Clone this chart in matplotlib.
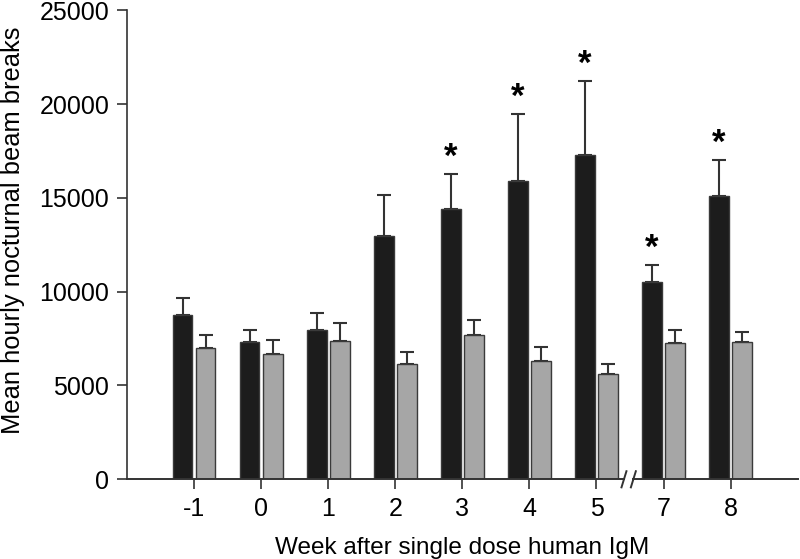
import numpy as np
import matplotlib.pyplot as plt

plt.rcParams['font.family'] = ['Liberation Sans', 'DejaVu Sans']

# weeks after dose (axis break between 5 and 7)
weeks = ['-1', '0', '1', '2', '3', '4', '5', '7', '8']
# black bars (treated) and grey bars (control), with upper SEM
black_mean = [8760, 7330, 7960, 12980, 14390, 15900, 17270, 10520, 15080]
black_err = [890, 610, 920, 2190, 1880, 3590, 3960, 920, 1950]
grey_mean = [7020, 6690, 7370, 6130, 7710, 6290, 5600, 7280, 7330]
grey_err = [660, 730, 960, 670, 800, 750, 550, 660, 530]
signif = [False, False, False, False, True, True, True, True, True]

x = np.arange(len(weeks))
w = 0.29
off = 0.172

fig = plt.figure(figsize=(8, 5.59), dpi=100)
ax = fig.add_axes([0.159, 0.1426, 0.838, 0.839])

ax.bar(x - off, black_mean, w, color='#1c1c1c', edgecolor='#3a3a3a', linewidth=1, zorder=2)
ax.bar(x + off, grey_mean, w, color='#a6a6a6', edgecolor='#3a3a3a', linewidth=1, zorder=2)

# one-sided error bars (upward only)
ax.errorbar(x - off, black_mean, yerr=[np.zeros(len(x)), black_err], fmt='none',
            ecolor='#333333', elinewidth=1.5, capsize=5, capthick=1.5, zorder=1)
ax.errorbar(x + off, grey_mean, yerr=[np.zeros(len(x)), grey_err], fmt='none',
            ecolor='#333333', elinewidth=1.5, capsize=5, capthick=1.5, zorder=1)

for i in range(len(x)):
    if signif[i]:
        ax.annotate('*', (x[i] - off, black_mean[i] + black_err[i]), xytext=(0, 0),
                    textcoords='offset points', ha='center', va='bottom',
                    fontsize=25, fontweight='bold')

ax.set_xlim(-1, 9)
ax.set_ylim(0, 25000)
ax.set_yticks(np.arange(0, 25001, 5000))
ax.set_xticks(x)
ax.set_xticklabels(weeks)
ax.tick_params(axis='both', labelsize=18, direction='out', length=7, width=1.2, color='#333333')
ax.tick_params(axis='x', pad=6)
ax.tick_params(axis='y', pad=6)

for s in ['top', 'right']:
    ax.spines[s].set_visible(False)
ax.spines['left'].set_color('#333333')
ax.spines['left'].set_linewidth(1.2)

# broken x axis
ax.spines['bottom'].set_visible(False)
brk = 6.48
gap = 0.07
ax.plot([-1, brk - gap], [0, 0], color='#333333', lw=1.4, clip_on=False, zorder=3)
ax.plot([brk + gap, 9], [0, 0], color='#333333', lw=1.4, clip_on=False, zorder=3)
for d in [-gap, gap]:
    ax.plot([brk + d - 0.037, brk + d + 0.037], [-430, 430], color='#333333', lw=1.4,
            clip_on=False, zorder=3)

ax.set_xlabel('Week after single dose human IgM', fontsize=17.5, labelpad=11)
ax.set_ylabel('Mean hourly nocturnal beam breaks', fontsize=18.4)
ax.yaxis.set_label_coords(-0.153, 0.53)

fig.savefig('out.png', dpi=100)
